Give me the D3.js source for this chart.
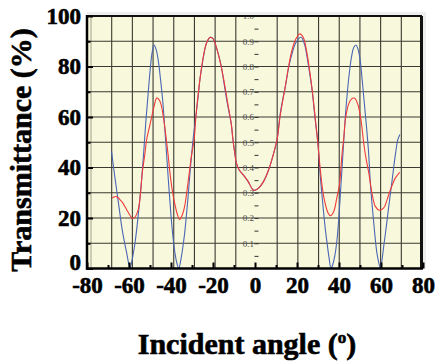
<!DOCTYPE html>
<html><head><meta charset="utf-8">
<script src="https://cdn.jsdelivr.net/npm/d3@7"></script>
<style>html,body{margin:0;padding:0;background:#fff;}svg{display:block;}</style>
</head><body>
<script>
// ---------- data ----------
const blueAngle = [-68.3,-67.5,-66.7,-65.9,-64.7,-63.5,-62.3,-61.1,-60.3,-59.6,-58.5,-57,-56,-55,-54,-53,-52,-51,-50,-49,-48.1,-47,-46,-45,-44,-43,-42,-41,-40,-39,-38,-37,-36.3,-35.3,-34.3,-33.5,-32.7,-31.9,-31.1,-30.3,-29.5,-28,-27,-26.3,-25,-24,-23,-21.3,-20,-18.4,-17,-16,-14.4,-13.7,-12.5,-11.3,-10.5,-9.5,-8.9,-7.5,-5.7,-3.3,-1,0,1.8,4.1,6.5,8.9,10.5,12,13.2,14.4,16,17.6,19.5,21.9,23.5,24.8,26,27.2,28.7,29.9,31.1,32.7,33.5,34.3,35.3,36.2,37,38,39,40,41,42,43,44,45,46,47,48.1,49,50,51,52,53,54,55,56,57,58,59,59.7,60.5,61.3,62.5,63.7,65,66.1,67,68,69];
const blueT     = [46.4,41,36,31.2,24,16.7,11,6.2,2.5,0,3.5,11,18,26,35,46,58,68,78,85.5,88.5,86.5,82,75,67,56,44,32,21,12,5.5,1.5,0,3.5,8.8,14,20.7,28,36.5,44,51,61.3,68.5,74.4,81.5,86.3,89.5,91.6,91,87.6,83.5,79.7,71.5,67.9,62.5,57.3,51,45,41.8,39,37.2,34.5,31.2,31,31.9,34.5,39.1,45.7,51,61.3,67,71.8,79.5,85,89.5,91.6,89,83.7,77.5,70.5,58.6,50,36.5,22,15.5,10.2,4,0,1.5,5,11,21,34,47,60,70,78,84,87.5,88.5,87,83,75,66,57,47,33,23,14,6.5,2,0,3.5,8.8,16.5,24.6,33,40.4,46,51,53.1];
const redAngle  = [-68,-66.5,-65.4,-64,-63,-61.1,-59.5,-58.3,-57,-55.6,-54.5,-53.7,-52.5,-51.6,-50,-49.2,-48.1,-46.8,-45.8,-44.8,-43.4,-42.5,-41.5,-40.5,-39.5,-38.3,-37,-35.9,-34.5,-33.5,-31.9,-30.3,-29,-28,-26.5,-25,-24,-23,-21.5,-20,-18.4,-16,-14.4,-13,-11.3,-10.5,-9.5,-8.9,-7.5,-5.7,-3.3,-1,0,1.8,4.1,6.5,8.9,10.5,12,14.4,16,17.6,19.5,21.3,23,24.8,26,27.2,28.7,29.9,31.1,32.7,34.8,35.9,37.5,39.1,40.2,41.4,42.3,43,44.6,46,47.3,48.9,50.5,51.8,53,54.2,55.7,57.3,59.2,61.3,62.9,64.5,66.8,68.9];
const redT      = [27.9,28.5,28.2,27,26,23.3,21,19.8,20.5,23.3,30,37.8,45,51,57,60,64,67.5,67,65.2,58.6,53,46,38,31.5,26,21.5,19.4,21.5,24.6,33.9,44.4,51,61.5,73,82,86.5,89.5,91.5,91,87.6,79.7,72.5,65.5,57.3,51,45,41.8,39,37.2,34.5,31.2,31,31.9,34.5,39.1,45.7,51,60.5,72,80,86.5,91,92.9,91.5,85,78.5,71,59.5,50,39.1,28.6,22,20.9,22.6,28.6,33,45,52,58.6,65.2,67.2,67.5,65.2,58.6,49.4,43,37.8,29.9,24.6,23.1,24,27.3,31.2,35.8,38.1];

const xTickLabels = ["-80","-60","-40","-20","0","20","40","60","80"];
const xMinorTicks = [-70,-50,-30,-10,10,30,50,70];
const yTickLabels = ["0","20","40","60","80","100"];
const yMinorTicks = [10,30,50,70,90];
const gridAngles  = [-80,-70,-60,-50,-40,-30,-20,-10,10,20,30,40,50,60,70];
const gridT       = [10,20,30,40,50,60,70,80,90];
const innerLabels = ["0.1","0.2","0.3","0.4","0.5","0.6","0.7","0.8","0.9","1.0"];
const innerMinor  = [0.05,0.15,0.25,0.35,0.45,0.55,0.65,0.75,0.85,0.95];

// ---------- layout ----------
const W = 435, H = 363;
const L = 87, R = 423, T = 16, B = 268.5;
const svg = d3.select("body").append("svg").attr("width", W).attr("height", H);
const x = d3.scaleLinear().domain([-80, 80]).range([L, R]);
const gx = d3.scaleLinear().domain([-80, 80]).range([91, 422]); // embedded plot grid
const y = d3.scaleLinear().domain([0, 100]).range([B, T]);
const yi = d3.scaleLinear().domain([0, 1]).range([B, T]);

svg.append("rect").attr("x", L).attr("y", 12).attr("width", 339).attr("height", B - 12).attr("fill", "#edefec");
svg.append("rect").attr("x", L).attr("y", T).attr("width", 422 - L).attr("height", B - T).attr("fill", "#f8f8dc");

svg.append("defs").append("clipPath").attr("id", "clip")
  .append("rect").attr("x", L).attr("y", T).attr("width", 422 - L).attr("height", B - T);
const plot = svg.append("g").attr("clip-path", "url(#clip)");

// grid
plot.selectAll("line.vg").data(gridAngles).join("line").attr("class", "vg")
  .attr("x1", d => gx(d)).attr("x2", d => gx(d)).attr("y1", T).attr("y2", B)
  .attr("stroke", d => d === -80 ? "#a8a890" : "#3a3a32").attr("stroke-width", 1.1);
plot.selectAll("line.hg").data(gridT).join("line").attr("class", "hg")
  .attr("x1", L).attr("x2", 422).attr("y1", d => y(d)).attr("y2", d => y(d))
  .attr("stroke", "#3a3a32").attr("stroke-width", 1.1);

// inner axis (embedded 0-1 scale)
const innerX = gx(0) - 2;
const innerLab = plot.append("g").attr("transform", `translate(${innerX},0)`);
innerLab.call(d3.axisLeft(yi).tickValues(innerLabels.map(Number)).tickSize(0).tickPadding(0.5)
  .tickFormat((d, i) => innerLabels[i]));
innerLab.select(".domain").remove();
innerLab.selectAll("text").attr("font-family", "'Liberation Serif', serif").attr("font-size", 9).attr("fill", "#4a4a4a");
const innerTk = plot.append("g").attr("transform", `translate(${innerX},0)`);
innerTk.call(d3.axisRight(yi).tickValues(innerMinor.concat(innerLabels.map(Number))).tickSize(4).tickFormat(""));
innerTk.select(".domain").remove();
innerTk.selectAll(".tick line").attr("stroke", "#333").attr("stroke-width", 1);

// curves
const line = d3.line().x(d => x(d[0])).y(d => y(d[1])).curve(d3.curveCatmullRom.alpha(0.5));
plot.append("path").datum(blueAngle.map((a, i) => [a, blueT[i]]))
  .attr("d", line).attr("fill", "none").attr("stroke", "#4a66b4").attr("stroke-width", 1.1);
plot.append("path").datum(redAngle.map((a, i) => [a, redT[i]]))
  .attr("d", line).attr("fill", "none").attr("stroke", "#f03a3a").attr("stroke-width", 1.1);

// frame
svg.append("line").attr("x1", L).attr("x2", 422).attr("y1", T).attr("y2", T).attr("stroke", "#111").attr("stroke-width", 2);
svg.append("line").attr("x1", 421.5).attr("x2", 421.5).attr("y1", T).attr("y2", B).attr("stroke", "#111").attr("stroke-width", 3);

// axes
const fontFam = "'Liberation Serif', 'Times New Roman', serif";
const xAx = svg.append("g").attr("transform", `translate(0,${B})`);
xAx.call(d3.axisBottom(x).tickValues(xTickLabels.map(Number)).tickSize(-6).tickPadding(8)
  .tickFormat((d, i) => xTickLabels[i]));
const xAxMin = svg.append("g").attr("transform", `translate(0,${B})`);
xAxMin.call(d3.axisBottom(x).tickValues(xMinorTicks).tickSize(-3.5).tickFormat(""));
const yAx = svg.append("g").attr("transform", `translate(${L},0)`);
yAx.call(d3.axisLeft(y).tickValues(yTickLabels.map(Number)).tickSize(-6).tickPadding(6)
  .tickFormat((d, i) => yTickLabels[i]));
const yAxMin = svg.append("g").attr("transform", `translate(${L},0)`);
yAxMin.call(d3.axisLeft(y).tickValues(yMinorTicks).tickSize(-3.5).tickFormat(""));
[xAx, xAxMin, yAx, yAxMin].forEach(g => {
  g.select(".domain").remove();
  g.selectAll(".tick line").attr("stroke", "#000").attr("stroke-width", 2);
  g.selectAll("text").attr("font-family", fontFam).attr("font-weight", "bold")
    .attr("font-size", 23).attr("fill", "#000").attr("stroke", "#000").attr("stroke-width", 0.6);
});
yAx.selectAll(".tick").filter(d => d === 0).select("text").attr("dy", "0.05em");

svg.append("line").attr("x1", L).attr("x2", L).attr("y1", T - 1).attr("y2", B + 1.2).attr("stroke", "#000").attr("stroke-width", 2.5);
svg.append("line").attr("x1", L - 1).attr("x2", 423).attr("y1", B).attr("y2", B).attr("stroke", "#000").attr("stroke-width", 2.5);

// titles
svg.append("text").attr("transform", "translate(31,150) rotate(-90)").attr("text-anchor", "middle")
  .attr("font-family", fontFam).attr("font-weight", "bold").attr("font-size", 30)
  .attr("stroke", "#000").attr("stroke-width", 0.6).text("Transmittance (%)");
const xt = svg.append("text").attr("x", 247).attr("y", 354).attr("text-anchor", "middle")
  .attr("font-family", fontFam).attr("font-weight", "bold").attr("font-size", 30)
  .attr("stroke", "#000").attr("stroke-width", 0.6);
xt.append("tspan").text("Incident angle (");
xt.append("tspan").attr("font-size", 17).attr("dy", -11).text("o");
xt.append("tspan").attr("dy", 11).text(")");
</script>
</body></html>
